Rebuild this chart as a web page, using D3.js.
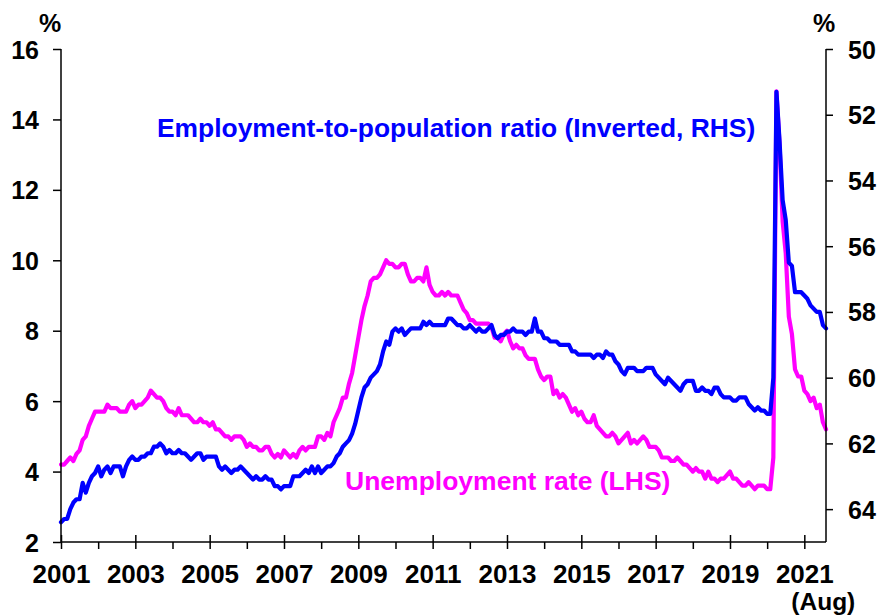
<!DOCTYPE html>
<html>
<head>
<meta charset="utf-8">
<script src="https://cdn.jsdelivr.net/npm/d3@7"></script>
<style>
  html, body { margin: 0; padding: 0; background: #fff; }
  svg { display: block; font-family: "Liberation Sans", Arial, sans-serif; font-weight: bold; }
</style>
</head>
<body>
<svg id="chart" width="882" height="615"></svg>
<script>
// Monthly data, Jan 2001 .. Aug 2021
const startYear = 2001;
const unemploymentRate = [
  4.2,4.2,4.3,4.4,4.3,4.5,4.6,4.9,5.0,5.3,5.5,5.7,
  5.7,5.7,5.7,5.9,5.8,5.8,5.8,5.7,5.7,5.7,5.9,6.0,
  5.8,5.9,5.9,6.0,6.1,6.3,6.2,6.1,6.1,6.0,5.8,5.7,
  5.7,5.6,5.8,5.6,5.6,5.6,5.5,5.4,5.4,5.5,5.4,5.4,
  5.3,5.4,5.2,5.2,5.1,5.0,5.0,4.9,5.0,5.0,5.0,4.9,
  4.7,4.8,4.7,4.7,4.6,4.6,4.7,4.7,4.5,4.4,4.5,4.4,
  4.6,4.5,4.4,4.5,4.4,4.6,4.7,4.6,4.7,4.7,4.7,5.0,
  5.0,4.9,5.1,5.0,5.4,5.6,5.8,6.1,6.1,6.5,6.8,7.3,
  7.8,8.3,8.7,9.0,9.4,9.5,9.5,9.6,9.8,10.0,9.9,9.9,
  9.8,9.8,9.9,9.9,9.6,9.4,9.4,9.5,9.5,9.4,9.8,9.3,
  9.1,9.0,9.0,9.1,9.0,9.1,9.0,9.0,9.0,8.8,8.6,8.5,
  8.3,8.3,8.2,8.2,8.2,8.2,8.2,8.1,7.8,7.8,7.7,7.9,
  8.0,7.7,7.5,7.6,7.5,7.5,7.3,7.2,7.2,7.2,6.9,6.7,
  6.6,6.7,6.7,6.2,6.3,6.1,6.2,6.1,5.9,5.7,5.8,5.6,
  5.7,5.5,5.4,5.4,5.6,5.3,5.2,5.1,5.0,5.0,5.1,5.0,
  4.8,4.9,5.0,5.1,4.8,4.9,4.8,4.9,5.0,4.9,4.7,4.7,
  4.7,4.6,4.4,4.4,4.4,4.3,4.3,4.4,4.3,4.2,4.2,4.1,
  4.0,4.1,4.0,4.0,3.8,4.0,3.8,3.8,3.7,3.8,3.8,3.9,
  4.0,3.8,3.8,3.7,3.6,3.6,3.7,3.6,3.5,3.6,3.6,3.6,
  3.5,3.5,4.4,14.8,13.3,11.1,10.2,8.4,7.9,6.9,6.7,6.7,
  6.3,6.2,6.0,6.1,5.8,5.9,5.4,5.2
];
const employmentPopRatio = [
  64.4,64.3,64.3,64.0,63.8,63.7,63.7,63.2,63.5,63.2,63.0,62.9,
  62.7,63.0,62.8,62.7,62.9,62.7,62.7,62.7,63.0,62.7,62.5,62.4,
  62.5,62.5,62.4,62.4,62.3,62.3,62.1,62.1,62.0,62.1,62.3,62.2,
  62.3,62.3,62.2,62.3,62.3,62.4,62.5,62.4,62.3,62.3,62.5,62.4,
  62.4,62.4,62.4,62.7,62.8,62.7,62.8,62.9,62.8,62.8,62.7,62.8,
  62.9,63.0,63.1,63.0,63.1,63.1,63.0,63.1,63.1,63.3,63.3,63.4,
  63.3,63.3,63.3,63.0,63.0,63.0,62.9,62.8,62.9,62.7,62.9,62.7,
  62.9,62.8,62.7,62.7,62.6,62.4,62.3,62.1,62.0,61.9,61.7,61.4,
  61.0,60.6,60.3,60.2,60.0,59.9,59.8,59.6,59.2,58.9,59.0,58.6,
  58.5,58.6,58.5,58.7,58.6,58.5,58.5,58.5,58.5,58.3,58.4,58.3,
  58.4,58.4,58.4,58.4,58.4,58.2,58.2,58.3,58.4,58.4,58.5,58.5,
  58.4,58.5,58.6,58.5,58.6,58.6,58.5,58.4,58.7,58.8,58.7,58.7,
  58.6,58.6,58.5,58.6,58.6,58.6,58.7,58.6,58.6,58.2,58.6,58.6,
  58.8,58.8,58.9,58.9,58.9,59.0,59.0,59.0,59.0,59.2,59.2,59.3,
  59.3,59.3,59.3,59.3,59.4,59.3,59.3,59.4,59.2,59.3,59.3,59.5,
  59.6,59.8,59.9,59.7,59.7,59.7,59.8,59.8,59.8,59.7,59.7,59.7,
  59.9,60.0,60.1,60.2,60.0,60.1,60.2,60.3,60.4,60.2,60.1,60.1,
  60.1,60.4,60.4,60.3,60.4,60.4,60.5,60.3,60.3,60.5,60.6,60.6,
  60.6,60.7,60.7,60.6,60.6,60.6,60.8,60.9,61.0,60.9,61.0,61.0,
  61.1,61.1,60.0,51.3,52.8,54.6,55.2,56.5,56.6,57.4,57.4,57.4,
  57.5,57.6,57.8,57.9,58.0,58.0,58.4,58.5
];
const xTickLabels = ["2001","2003","2005","2007","2009","2011","2013","2015","2017","2019","2021"];
const lastTickNote = "(Aug)";
const leftTicks = [2,4,6,8,10,12,14,16];
const rightTicks = [50,52,54,56,58,60,62,64];
const titleEmp = "Employment-to-population ratio (Inverted, RHS)";
const titleUnemp = "Unemployment rate (LHS)";

const BLUE = "#0000FF", MAGENTA = "#FF00FF";
const L = 61, R = 826, T = 49, B = 542;
const FONT = "'Liberation Sans', Arial, sans-serif";
const svg = d3.select("#chart");

const dateOf = i => startYear + i / 12;
const lastX = dateOf(unemploymentRate.length - 1);
const x = d3.scaleLinear().domain([startYear, lastX]).range([L, R]);
const yL = d3.scaleLinear().domain([2, 16]).range([B, T]);
const yR = d3.scaleLinear().domain([50, 65]).range([T, B]);

// Lines
const lineU = d3.line().x((d, i) => x(dateOf(i))).y(d => yL(d));
const lineE = d3.line().x((d, i) => x(dateOf(i))).y(d => yR(d));
svg.append("path").datum(unemploymentRate).attr("d", lineU)
  .attr("fill", "none").attr("stroke", MAGENTA).attr("stroke-width", 4.2)
  .attr("stroke-linejoin", "round").attr("stroke-linecap", "round");
svg.append("path").datum(employmentPopRatio).attr("d", lineE)
  .attr("fill", "none").attr("stroke", BLUE).attr("stroke-width", 4.2)
  .attr("stroke-linejoin", "round").attr("stroke-linecap", "round");

// Left axis
const gL = svg.append("g").attr("transform", `translate(${L},0)`)
  .call(d3.axisLeft(yL).tickValues(leftTicks).tickSize(8).tickPadding(14).tickFormat(d3.format("d")));
// Right axis
const gR = svg.append("g").attr("transform", `translate(${R},0)`)
  .call(d3.axisRight(yR).tickValues(rightTicks).tickSize(7).tickPadding(15).tickFormat(d3.format("d")));
[gL, gR].forEach(g => {
  g.select(".domain").attr("d", `M0,${T}V${B}`).attr("stroke", "#000").attr("stroke-width", 1.5);
  g.selectAll(".tick line").attr("stroke", "#000").attr("stroke-width", 1.5);
  g.selectAll(".tick text").attr("font-size", 25).attr("font-family", FONT)
    .attr("font-weight", "bold").attr("fill", "#000").attr("dy", "0.36em");
});

// X axis
const allYears = d3.range(2001, 2022);
const gX = svg.append("g").attr("transform", `translate(0,${B})`)
  .call(d3.axisBottom(x).tickValues(allYears).tickSize(7)
    .tickFormat(d => xTickLabels.includes(String(d)) ? String(d) : ""));
gX.select(".domain").attr("d", `M${L},0H${R}`).attr("stroke", "#000").attr("stroke-width", 1.5);
gX.selectAll(".tick line").attr("stroke", "#000").attr("stroke-width", 1.5)
  .attr("y1", d => xTickLabels.includes(String(d)) ? -7 : 0).attr("y2", 7);
gX.selectAll(".tick text").attr("font-size", 26).attr("font-family", FONT)
  .attr("font-weight", "bold").attr("fill", "#000").attr("y", 0).attr("dy", 0)
  .attr("transform", "translate(0,40.5)");

// "(Aug)" note under the last year label
svg.append("text").attr("x", x(2021) + 19).attr("y", 609.5).attr("text-anchor", "middle")
  .attr("font-size", 24.5).text(lastTickNote);

// % unit labels
svg.append("text").attr("x", 50).attr("y", 32).attr("text-anchor", "middle").attr("font-size", 25).text("%");
svg.append("text").attr("x", 824).attr("y", 32).attr("text-anchor", "middle").attr("font-size", 25).text("%");

// Series labels
svg.append("text").attr("x", 157).attr("y", 137).attr("font-size", 26.4).attr("fill", BLUE).text(titleEmp);
svg.append("text").attr("x", 345).attr("y", 490).attr("font-size", 26.5).attr("fill", MAGENTA).text(titleUnemp);
</script>
</body>
</html>
